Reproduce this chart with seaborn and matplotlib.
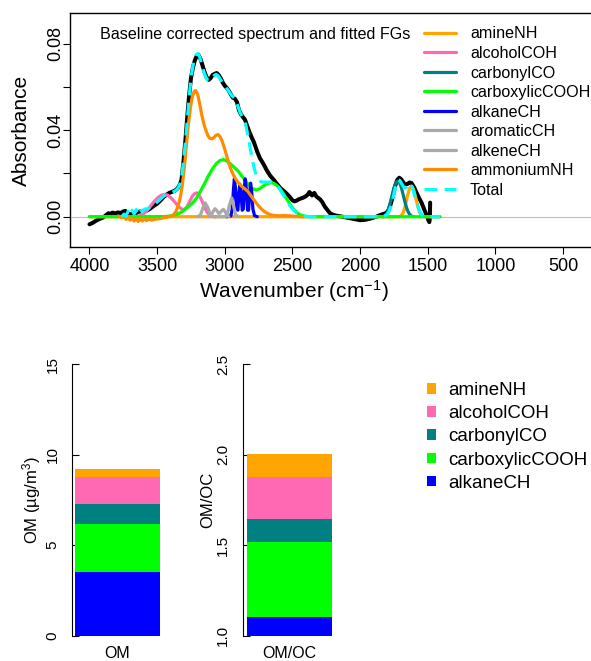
import matplotlib
matplotlib.use("Agg")
import matplotlib.pyplot as plt
import seaborn as sns
from matplotlib.lines import Line2D
from matplotlib.patches import Patch

# ---------------- data ----------------
# measured (baseline corrected) spectrum
spec_wn = [4000, 3975, 3950, 3925, 3900, 3880, 3860, 3845, 3830, 3810, 3790, 3770, 3750, 3735,
           3720, 3700, 3680, 3660, 3640, 3620, 3600, 3576, 3550, 3525, 3500, 3475, 3450, 3430,
           3410, 3390, 3370, 3350, 3335, 3320, 3305, 3290, 3280, 3265, 3250, 3235, 3220, 3205,
           3195, 3180, 3165, 3150, 3135, 3120, 3105, 3090, 3075, 3060, 3045, 3030, 3015, 3000,
           2985, 2970, 2955, 2940, 2925, 2910, 2895, 2880, 2865, 2850, 2835, 2820, 2800, 2785,
           2760, 2740, 2715, 2690, 2665, 2640, 2615, 2590, 2567, 2545, 2520, 2500, 2485, 2470,
           2455, 2435, 2420, 2400, 2385, 2375, 2365, 2355, 2345, 2338, 2328, 2320, 2305, 2295,
           2280, 2260, 2240, 2222, 2200, 2170, 2148, 2100, 2050, 2000, 1960, 1920, 1880, 1850,
           1825, 1804, 1790, 1775, 1760, 1742, 1725, 1710, 1695, 1680, 1668, 1650, 1635, 1620,
           1600, 1582, 1565, 1545, 1521, 1505, 1496, 1488, 1484, 1482]
spec_abs = [-0.0035, -0.0028, -0.0018, -0.0010, -0.0004, 0.0006, 0.0016, 0.0012, 0.0019, 0.0015,
            0.0020, 0.0017, 0.0024, 0.0027, 0.0016, 0.0012, 0.0010, 0.0016, 0.0022, 0.0025,
            0.0024, 0.0028, 0.0038, 0.0050, 0.0060, 0.0075, 0.0092, 0.0102, 0.0110, 0.0115,
            0.0120, 0.0130, 0.0145, 0.0170, 0.0255, 0.0360, 0.0440, 0.0550, 0.0640, 0.0690,
            0.0725, 0.0745, 0.0748, 0.0730, 0.0700, 0.0670, 0.0645, 0.0632, 0.0640, 0.0655,
            0.0660, 0.0664, 0.0655, 0.0640, 0.0620, 0.0605, 0.0595, 0.0582, 0.0565, 0.0550,
            0.0545, 0.0530, 0.0492, 0.0472, 0.0460, 0.0448, 0.0420, 0.0395, 0.0365, 0.0345,
            0.0300, 0.0270, 0.0245, 0.0215, 0.0190, 0.0172, 0.0152, 0.0133, 0.0120, 0.0108,
            0.0092, 0.0076, 0.0071, 0.0074, 0.0080, 0.0085, 0.0088, 0.0095, 0.0103, 0.0114,
            0.0108, 0.0098, 0.0106, 0.0110, 0.0098, 0.0092, 0.0085, 0.0080, 0.0068, 0.0046,
            0.0030, 0.0016, 0.0009, 0.0004, 0.0002, -0.0004, -0.0010, -0.0016, -0.0014, -0.0008,
            0.0000, 0.0008, 0.0013, 0.0018, 0.0030, 0.0055, 0.0088, 0.0140, 0.0170, 0.0180,
            0.0172, 0.0158, 0.0149, 0.0151, 0.0158, 0.0156, 0.0135, 0.0110, 0.0088, 0.0064,
            0.0026, 0.0004, -0.0015, -0.0025, -0.0005, 0.0065]

# fitted functional groups
amine_wn = [4000, 1710, 1695, 1680, 1665, 1650, 1635, 1620, 1605, 1590, 1575, 1560, 1545, 1530, 1410]
amine_abs = [0, 0, 0.0005, 0.0020, 0.0052, 0.0095, 0.0130, 0.0142, 0.0128, 0.0092, 0.0052,
             0.0020, 0.0005, 0, 0]

alcohol_wn = [3650, 3620, 3595, 3570, 3545, 3520, 3495, 3470, 3445, 3420, 3395, 3370, 3345, 3320,
              3300, 3280, 3260, 3240, 3220, 3205, 3190, 3170, 3150, 3130, 3110, 3090, 3070]
alcohol_abs = [0, 0.0006, 0.0016, 0.0032, 0.0052, 0.0072, 0.0088, 0.0099, 0.0103, 0.0099, 0.0086,
               0.0068, 0.0050, 0.0036, 0.0033, 0.0045, 0.0070, 0.0095, 0.0108, 0.0110, 0.0100,
               0.0075, 0.0045, 0.0020, 0.0007, 0.0001, 0]

carbonyl_wn = [1830, 1815, 1800, 1785, 1770, 1755, 1740, 1725, 1710, 1695, 1680, 1665, 1650, 1635,
               1620, 1605]
carbonyl_abs = [0, 0.0004, 0.0018, 0.0045, 0.0082, 0.0120, 0.0150, 0.0164, 0.0160, 0.0135, 0.0098,
                0.0060, 0.0030, 0.0012, 0.0003, 0]

carboxylic_wn = [4000, 3450, 3420, 3390, 3360, 3330, 3300, 3270, 3240, 3210, 3180, 3150, 3120, 3090,
                 3060, 3035, 3010, 2985, 2960, 2930, 2900, 2870, 2840, 2813, 2790, 2764, 2740, 2715,
                 2690, 2665, 2640, 2615, 2590, 2565, 2540, 2515, 2490, 2465, 2440, 2410, 2380, 1410]
carboxylic_abs = [0, 0, 0.0002, 0.0005, 0.0010, 0.0018, 0.0030, 0.0046, 0.0062, 0.0085, 0.0118,
                  0.0152, 0.0190, 0.0222, 0.0247, 0.0260, 0.0264, 0.0258, 0.0245, 0.0228, 0.0210,
                  0.0185, 0.0160, 0.0141, 0.0128, 0.0124, 0.0130, 0.0142, 0.0152, 0.0157, 0.0155,
                  0.0145, 0.0128, 0.0105, 0.0080, 0.0055, 0.0034, 0.0018, 0.0008, 0.0003, 0, 0]

alkane_wn = [2990, 2955, 2945, 2936, 2929, 2921, 2911, 2903, 2896, 2888, 2880, 2871, 2863, 2856,
             2849, 2841, 2832, 2824, 2816, 2809, 2801, 2792, 2780, 2760]
alkane_abs = [0, 0.0003, 0.0035, 0.0125, 0.0175, 0.0135, 0.0035, 0.0030, 0.0105, 0.0150, 0.0110,
              0.0030, 0.0035, 0.0130, 0.0175, 0.0130, 0.0030, 0.0030, 0.0110, 0.0155, 0.0115,
              0.0035, 0.0005, 0]

aromatic_wn = [3120, 3100, 3085, 3072, 3058, 3045, 3035, 3022, 3010, 2998, 2985, 2970]
aromatic_abs = [0, 0.0008, 0.0025, 0.0037, 0.0028, 0.0015, 0.0017, 0.0028, 0.0034, 0.0024, 0.0008, 0]

alkene_wn = [3200, 3180, 3165, 3145, 3125, 3110, 3095, 3080, 2995, 2980, 2965, 2948, 2935, 2920, 2900]
alkene_abs = [0, 0.0008, 0.0035, 0.0064, 0.0042, 0.0015, 0.0003, 0, 0, 0.0015, 0.0055, 0.0087,
              0.0050, 0.0010, 0]

ammonium_wn = [3780, 3760, 3745, 3730, 3715, 3700, 3685, 3670, 3655, 3640, 3625, 3610, 3595, 3580,
               3560, 3540, 3520, 3500, 3480, 3460, 3440, 3420, 3400, 3380, 3360, 3345, 3330, 3315,
               3300, 3285, 3270, 3255, 3240, 3225, 3215, 3200, 3185, 3170, 3155, 3140, 3125, 3110,
               3095, 3080, 3065, 3050, 3035, 3020, 3005, 2990, 2975, 2960, 2945, 2930, 2910, 2890,
               2870, 2850, 2830, 2810, 2790, 2770, 2750, 2730, 2710, 2690, 2665, 2640, 2600, 2560,
               2520, 2480, 2440, 2400]
ammonium_abs = [0, -0.0005, 0.0002, -0.0012, -0.0003, -0.0016, -0.0006, -0.0020, -0.0008, -0.0022,
                -0.0010, -0.0020, -0.0008, -0.0018, -0.0010, -0.0016, -0.0012, -0.0010, -0.0009,
                -0.0006, -0.0003, -0.0001, 0.0002, 0.0008, 0.0025, 0.0050, 0.0085, 0.0140, 0.0220,
                0.0320, 0.0420, 0.0500, 0.0555, 0.0580, 0.0583, 0.0565, 0.0520, 0.0470, 0.0430,
                0.0400, 0.0375, 0.0362, 0.0360, 0.0366, 0.0376, 0.0380, 0.0370, 0.0350, 0.0322,
                0.0290, 0.0258, 0.0228, 0.0205, 0.0185, 0.0165, 0.0150, 0.0138, 0.0128, 0.0117,
                0.0100, 0.0082, 0.0066, 0.0050, 0.0036, 0.0025, 0.0017, 0.0010, 0.0006, 0.0004,
                0.0005, 0.0004, 0.0002, 0, 0]

total_wn = [3760, 3745, 3730, 3715, 3700, 3685, 3670, 3655, 3640, 3625, 3610, 3595, 3575, 3550,
            3525, 3500, 3475, 3450, 3430, 3410, 3390, 3370, 3350, 3335, 3320, 3305, 3290, 3275,
            3260, 3245, 3230, 3215, 3200, 3185, 3170, 3155, 3140, 3125, 3110, 3095, 3080, 3065,
            3050, 3035, 3020, 3005, 2990, 2975, 2960, 2945, 2930, 2915, 2900, 2885, 2870, 2855,
            2840, 2825, 2810, 2795, 2780, 2765, 2750, 2735, 2720, 2700, 2680, 2660, 2640, 2620,
            2600, 2580, 2560, 2540, 2520, 2500, 2480, 2460, 2440, 2410, 2380, 1850, 1825, 1805,
            1790, 1775, 1760, 1745, 1730, 1718, 1705, 1690, 1675, 1660, 1645, 1630, 1615, 1600,
            1585, 1570, 1555, 1540, 1520, 1500, 1410]
total_abs = [0, 0.0012, 0.0002, 0.0025, 0.0008, 0.0030, 0.0012, 0.0033, 0.0015, 0.0036, 0.0022,
             0.0035, 0.0036, 0.0045, 0.0056, 0.0068, 0.0082, 0.0096, 0.0104, 0.0108, 0.0112,
             0.0118, 0.0128, 0.0145, 0.0178, 0.0255, 0.0350, 0.0460, 0.0575, 0.0660, 0.0715,
             0.0745, 0.0755, 0.0738, 0.0705, 0.0670, 0.0645, 0.0630, 0.0628, 0.0640, 0.0652,
             0.0658, 0.0652, 0.0638, 0.0622, 0.0607, 0.0596, 0.0585, 0.0570, 0.0557, 0.0550,
             0.0532, 0.0505, 0.0478, 0.0462, 0.0448, 0.0410, 0.0362, 0.0310, 0.0260, 0.0218,
             0.0188, 0.0172, 0.0163, 0.0160, 0.0160, 0.0160, 0.0160, 0.0157, 0.0147, 0.0133,
             0.0114, 0.0093, 0.0072, 0.0052, 0.0037, 0.0024, 0.0014, 0.0007, 0.0002, 0, 0,
             0.0003, 0.0008, 0.0020, 0.0042, 0.0075, 0.0118, 0.0155, 0.0170, 0.0167, 0.0150,
             0.0135, 0.0135, 0.0148, 0.0155, 0.0138, 0.0106, 0.0072, 0.0042, 0.0020, 0.0008,
             0.0002, 0, 0]

fg_names = ["amineNH", "alcoholCOH", "carbonylCO", "carboxylicCOOH", "alkaneCH",
            "aromaticCH", "alkeneCH", "ammoniumNH"]
fg_colors = ["#FFA500", "#FF69B4", "#008080", "#00FF00", "#0000FF",
             "#A9A9A9", "#A9A9A9", "#FF8C00"]
total_color = "#00FFFF"

x_ticks = [4000, 3500, 3000, 2500, 2000, 1500, 1000, 500]
y_ticks = [0.00, 0.02, 0.04, 0.06, 0.08]
y_ticklabels = ["0.00", "", "0.04", "", "0.08"]

# bar charts (stack order bottom -> top)
bar_groups = ["alkaneCH", "carboxylicCOOH", "carbonylCO", "alcoholCOH", "amineNH"]
bar_colors = ["#0000FF", "#00FF00", "#008080", "#FF69B4", "#FFA500"]
om_values = [3.54, 2.63, 1.11, 1.49, 0.44]          # ug/m3
omoc_values = [1.105, 0.415, 0.125, 0.232, 0.127]   # OM/OC contributions
om_ticks = [0, 5, 10, 15]
omoc_ticks = [1.0, 1.5, 2.0, 2.5]

# ---------------- styling ----------------
sns.set_style("ticks")
plt.rcParams.update({
    "font.family": ["Liberation Sans", "DejaVu Sans"],
    "mathtext.fontset": "custom",
    "mathtext.rm": "Liberation Sans",
    "mathtext.it": "Liberation Sans:italic",
    "mathtext.bf": "Liberation Sans:bold",
    "axes.edgecolor": "black",
    "text.color": "black",
    "axes.labelcolor": "black",
    "xtick.color": "black",
    "ytick.color": "black",
})

W, H = 591, 661
fig = plt.figure(figsize=(W / 100, H / 100), dpi=100)


def box(l, t, r, b):
    return [l / W, 1 - b / H, (r - l) / W, (b - t) / H]


# ---------------- top: spectrum ----------------
ax1 = fig.add_axes(box(70, 13.3, 596, 247))
ax1.axhline(0, color="#BEBEBE", lw=0.8, zorder=1)
sns.lineplot(x=spec_wn, y=spec_abs, ax=ax1, color="black", linewidth=2.9,
             estimator=None, sort=False, zorder=2)

fg_data = {
    "amineNH": (amine_wn, amine_abs),
    "alcoholCOH": (alcohol_wn, alcohol_abs),
    "carbonylCO": (carbonyl_wn, carbonyl_abs),
    "carboxylicCOOH": (carboxylic_wn, carboxylic_abs),
    "alkaneCH": (alkane_wn, alkane_abs),
    "aromaticCH": (aromatic_wn, aromatic_abs),
    "alkeneCH": (alkene_wn, alkene_abs),
    "ammoniumNH": (ammonium_wn, ammonium_abs),
}
for name, col in zip(fg_names, fg_colors):
    wn, ab = fg_data[name]
    sns.lineplot(x=wn, y=ab, ax=ax1, color=col, linewidth=2.3,
                 estimator=None, sort=False, zorder=3)
sns.lineplot(x=total_wn, y=total_abs, ax=ax1, color=total_color, linewidth=2.3,
             linestyle=(0, (4, 2.3)), estimator=None, sort=False, zorder=4)

ax1.set_xlim(4144, 256)
ax1.set_ylim(-0.014, 0.094)
for s in ax1.spines.values():
    s.set_linewidth(1.0)
ax1.set_xticks(x_ticks)
ax1.set_xticklabels([str(t) for t in x_ticks])
ax1.set_yticks(y_ticks)
ax1.set_yticklabels(y_ticklabels, rotation=90, va="center", ha="center")
ax1.tick_params(axis="both", direction="out", length=5, width=0.8, labelsize=13)
ax1.tick_params(axis="x", pad=3.2)
ax1.tick_params(axis="y", pad=5)

ax1.set_xlabel("Wavenumber (cm$^{-1}$)", fontsize=15, va="baseline")
ax1.xaxis.set_label_coords((293.5 - 70) / 526, (247 - 298.3) / 233.7)
ax1.set_ylabel("Absorbance", fontsize=15, va="baseline")
ax1.yaxis.set_label_coords((26.7 - 70) / 526, 0.5)

ax1.text((100 - 70) / 526, (247 - 39.3) / 233.7, "Baseline corrected spectrum and fitted FGs",
         transform=ax1.transAxes, ha="left", va="baseline", fontsize=11.6)

line_handles = [Line2D([0], [0], color=c, lw=2.3) for c in fg_colors]
line_handles.append(Line2D([0], [0], color=total_color, lw=2.3, linestyle=(0, (4, 2.3))))
ax1.legend(line_handles, fg_names + ["Total"], loc="upper left",
           bbox_to_anchor=(424 / W, 1 - 26.5 / H), bbox_transform=fig.transFigure,
           frameon=False, fontsize=11.6, handlelength=2.0, handletextpad=0.85,
           labelspacing=0.28, borderpad=0, borderaxespad=0)


# ---------------- bottom: stacked bars ----------------
def stacked(ax, values, base):
    bottom = base
    for v, col in zip(values, bar_colors):
        ax.bar([0.7], [v], bottom=bottom, width=1.0, color=col, edgecolor="none",
               linewidth=0, zorder=2)
        bottom += v


ax2 = fig.add_axes(box(71.7, 364.3, 71.7 + 91.7, 635.7))
stacked(ax2, om_values, 0.0)
ax2.set_xlim(0.161, 1.24)
ax2.set_ylim(0, 15)
ax2.set_yticks(om_ticks)
ax2.set_yticklabels([str(t) for t in om_ticks], rotation=90, va="center", ha="center")
ax2.set_xticks([0.7])
ax2.set_xticklabels(["OM"])
ax2.set_ylabel("OM (µg/m$^3$)", fontsize=12, va="baseline")
ax2.yaxis.set_label_coords((37.5 - 71.7) / 91.7, 0.5)

ax3 = fig.add_axes(box(243.3, 364.3, 243.3 + 91.7, 635.7))
stacked(ax3, omoc_values, 0.0)
ax3.set_xlim(0.161, 1.24)
ax3.set_ylim(1.0, 2.5)
ax3.set_yticks(omoc_ticks)
ax3.set_yticklabels([f"{t:.1f}" for t in omoc_ticks], rotation=90, va="center", ha="center")
ax3.set_xticks([0.7])
ax3.set_xticklabels(["OM/OC"])
ax3.set_ylabel("OM/OC", fontsize=12, va="baseline")
ax3.yaxis.set_label_coords((212.5 - 243.3) / 91.7, 0.5)

for ax, ypad in ((ax2, 13.8), (ax3, 14.5)):
    for side in ("top", "right", "bottom"):
        ax.spines[side].set_visible(False)
    ax.spines["left"].set_linewidth(0.8)
    ax.tick_params(axis="y", direction="in", length=5, width=0.8, labelsize=11, pad=ypad)
    ax.tick_params(axis="x", length=0, labelsize=11.5, pad=7.2)

bar_handles = [Patch(facecolor=c, edgecolor="none") for c in bar_colors[::-1]]
fig.legend(bar_handles, bar_groups[::-1], loc="upper left",
           bbox_to_anchor=(427 / W, 1 - 382 / H), frameon=False, fontsize=13.5,
           handlelength=0.5, handleheight=0.5, handletextpad=0.62, labelspacing=0.33,
           borderpad=0, borderaxespad=0)

fig.savefig("out.png", dpi=100)
